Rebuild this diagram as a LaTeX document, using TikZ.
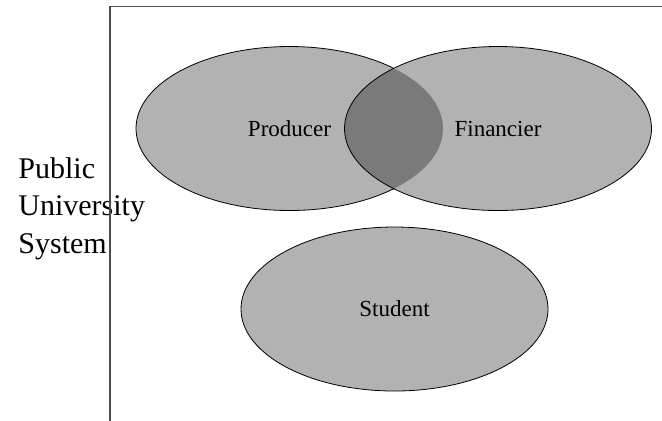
\documentclass[tikz,border=0pt]{standalone}
\usepackage{fontspec}
\setmainfont{Liberation Serif}
\usepackage{tikz}
\usetikzlibrary{shapes.geometric}
\tikzset{
  setfill/.style={fill=black!30},
  lensfill/.style={fill=black!52},
  setline/.style={draw=black, line width=0.4pt},
  setlabel/.style={font=\fontsize{11.5}{14}\selectfont, inner sep=0pt},
  setshape/.style={x radius=76.75pt, y radius=41pt},
}

\begin{document}
\begin{tikzpicture}[x=0.5pt, y=-0.5pt]
		%%%%% START %%%%%
		\useasboundingbox (0,0) rectangle (662,420);
		
		\node[font=\fontsize{15}{18.75}\selectfont, align=left, anchor=base west, inner sep=0pt] (system) at (18,253) {Public\\University\\System};
		
		\draw[line width=0.6pt, color=black!70] (110,6.5) rectangle (720,480);
		
		\coordinate (prodc) at (289.5,128.5);
		\coordinate (finc) at (498,128.5);
		\coordinate (studc) at (394.5,309);
		
		\draw[setfill, setline] (prodc) ellipse [setshape];
		\fill[setfill] (finc) ellipse [setshape];
		\begin{scope}
			\clip (prodc) ellipse [setshape];
			\fill[lensfill] (finc) ellipse [setshape];
		\end{scope}
		\draw[setline] (finc) ellipse [setshape];
		
		\draw[setfill, setline] (studc) ellipse [setshape];
		
		\node[setlabel] (producer) at (prodc) {Producer};
		\node[setlabel] (financier) at (finc) {Financier};
		\node[setlabel] (student) at (studc) {Student};
		
		%%%%% END %%%%%
\end{tikzpicture}
\end{document}
